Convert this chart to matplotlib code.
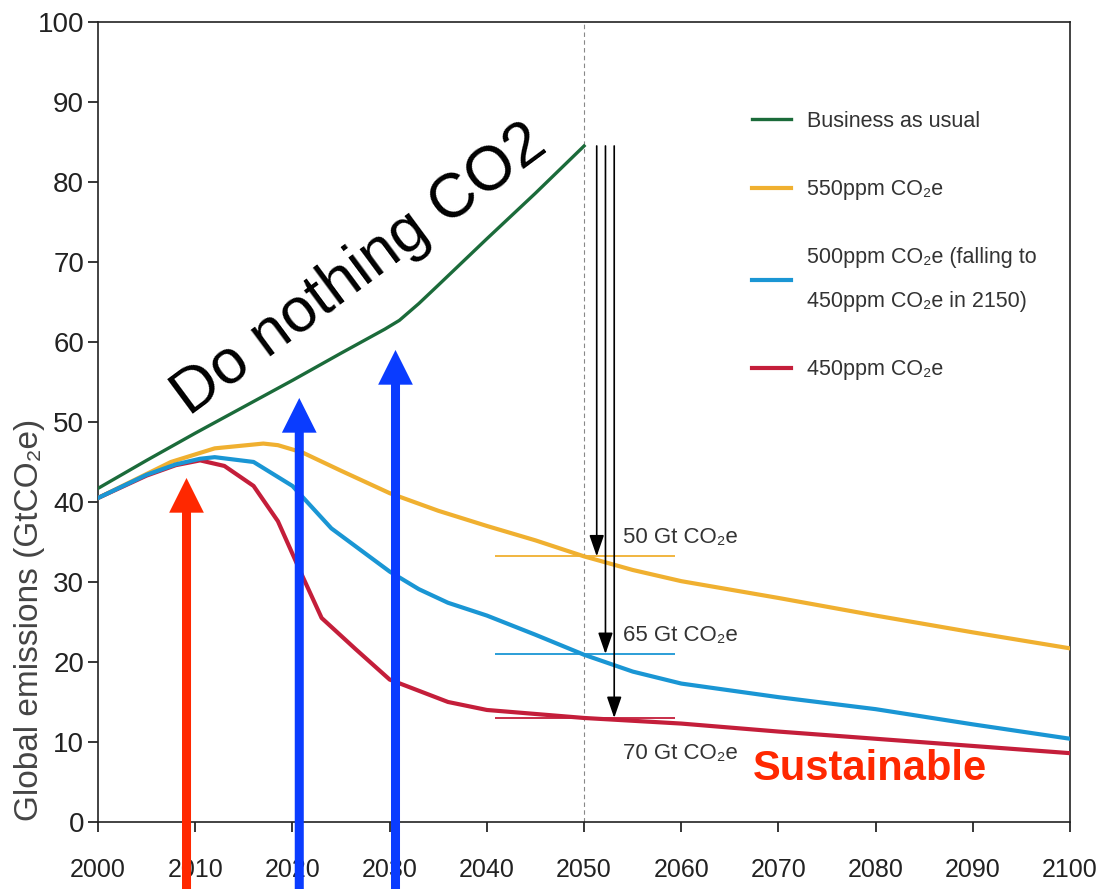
import matplotlib
matplotlib.use("Agg")
import matplotlib.pyplot as plt

# series (year, GtCO2e)
years_bau = [2000, 2005, 2010, 2015, 2020, 2025, 2029.5, 2031, 2033, 2035, 2040, 2045, 2050]
bau = [41.7, 45.2, 48.6, 51.9, 55.2, 58.6, 61.6, 62.7, 64.8, 67.1, 72.9, 78.6, 84.5]

years_550 = [2000, 2005, 2007.5, 2012, 2017, 2018.5, 2021, 2025, 2030, 2035, 2040,
             2045, 2050, 2055, 2060, 2070, 2080, 2090, 2100]
ppm550 = [40.5, 43.5, 45.0, 46.7, 47.3, 47.1, 46.2, 43.9, 41.1, 38.9, 37.0,
          35.2, 33.2, 31.5, 30.1, 28.0, 25.8, 23.7, 21.7]

years_500 = [2000, 2005, 2008, 2010.5, 2012, 2016, 2020, 2024, 2030, 2033, 2036,
             2040, 2045, 2050, 2055, 2060, 2070, 2080, 2090, 2100]
ppm500 = [40.5, 43.4, 44.7, 45.4, 45.6, 45.0, 42.0, 36.7, 31.3, 29.1, 27.4,
          25.8, 23.4, 20.9, 18.8, 17.3, 15.6, 14.1, 12.2, 10.4]

years_450 = [2000, 2005, 2008, 2010.5, 2013, 2016, 2018.5, 2021, 2023, 2026.5,
             2030, 2036, 2040, 2050, 2060, 2070, 2080, 2090, 2100]
ppm450 = [40.5, 43.3, 44.6, 45.2, 44.5, 42.0, 37.6, 30.8, 25.5, 21.6,
          17.8, 15.0, 14.0, 13.0, 12.3, 11.3, 10.4, 9.5, 8.6]

labels = ["Business as usual", "550ppm CO₂e",
          "500ppm CO₂e (falling to\n450ppm CO₂e in 2150)", "450ppm CO₂e"]
colors = ["#1b6b3a", "#f0b030", "#1a96d4", "#c41e3a"]

# cumulative budgets marked in 2050
budget_labels = ["50 Gt CO₂e", "65 Gt CO₂e", "70 Gt CO₂e"]
budget_levels = [33.2, 21.0, 13.0]
budget_label_y = [35.6, 23.3, 8.6]
budget_arrow_x = [2051.3, 2052.2, 2053.1]

# overlay arrows
red_arrow_x, red_arrow_tip = 2009.1, 43.0
blue_arrow_x = [2020.7, 2030.6]
blue_arrow_tip = [53.0, 59.0]

sans = ["Liberation Sans", "DejaVu Sans"]

fig = plt.figure(figsize=(10.98, 8.89), dpi=100)
ax = fig.add_axes([0.0893, 0.0754, 0.8853, 0.8999])

ax.plot(years_550, ppm550, color=colors[1], lw=3.0, label=labels[1], zorder=3)
ax.plot(years_450, ppm450, color=colors[3], lw=3.0, label=labels[3], zorder=3)
ax.plot(years_500, ppm500, color=colors[2], lw=3.0, label=labels[2], zorder=3)
ax.plot(years_bau, bau, color=colors[0], lw=2.4, label=labels[0], zorder=4)

ax.axvline(2050, color="#888888", lw=0.8, dashes=(4, 3), zorder=1)

for lvl, col in zip(budget_levels, [colors[1], colors[2], colors[3]]):
    ax.hlines(lvl, 2040.8, 2059.4, color=col, lw=1.3, zorder=2)

for bx, lvl in zip(budget_arrow_x, budget_levels):
    ax.annotate("", xy=(bx, lvl), xytext=(bx, bau[-1]),
                arrowprops=dict(arrowstyle="-|>,head_length=1.3,head_width=0.45",
                                mutation_scale=10, color="black", lw=1.2,
                                shrinkA=0, shrinkB=0), zorder=5)

for txt, ty in zip(budget_labels, budget_label_y):
    ax.text(2054.0, ty, txt, family=sans, fontsize=16, color="#333333",
            va="center", ha="left")

# big overlay arrows coming from below the figure
ax.annotate("", xy=(red_arrow_x, red_arrow_tip), xytext=(red_arrow_x, -10),
            arrowprops=dict(width=6.5, headwidth=25, headlength=25, shrink=0,
                            color="#ff2800", lw=0),
            annotation_clip=False, zorder=6)
for bx, bt in zip(blue_arrow_x, blue_arrow_tip):
    ax.annotate("", xy=(bx, bt), xytext=(bx, -10),
                arrowprops=dict(width=6.5, headwidth=25, headlength=25, shrink=0,
                                color="#0a3cff", lw=0),
                annotation_clip=False, zorder=6)

ax.text(2026.9, 69.0, "Do nothing CO2", family=sans, fontsize=45, color="black",
        rotation=36.5, rotation_mode="anchor", ha="center", va="center", zorder=7)
ax.text(2079.4, 5.3, "Sustainable", family=sans, fontsize=30, fontweight="bold",
        color="#ff2800", ha="center", va="baseline", zorder=7)

ax.set_xlim(2000, 2100)
ax.set_ylim(0, 100)
ax.set_xticks(range(2000, 2101, 10))
ax.set_yticks(range(0, 101, 10))
ax.tick_params(axis="y", direction="out", length=7, width=1.1, pad=3,
               labelsize=20, labelcolor="#222222")
ax.tick_params(axis="x", direction="out", length=7, width=1.1, pad=19,
               labelsize=18, labelcolor="#222222")
for t in ax.get_xticklabels() + ax.get_yticklabels():
    t.set_family(sans)
for s in ax.spines.values():
    s.set_linewidth(1.2)
    s.set_color("#222222")

fig.text(0.027, 0.3026, "Global emissions (GtCO₂e)", family=sans, fontsize=24,
         color="#444444", rotation=90, ha="center", va="center")

h, l = ax.get_legend_handles_labels()
order = [l.index(x) for x in labels]
leg = ax.legend([h[i] for i in order], [l[i] for i in order],
                loc="upper left", bbox_to_anchor=(0.673, 0.889), frameon=False,
                borderpad=0, borderaxespad=0, handlelength=1.8, handletextpad=0.75,
                labelspacing=2.2, prop={"family": sans, "size": 15.5})
for t in leg.get_texts():
    t.set_color("#333333")
    t.set_linespacing(2.4)

fig.savefig("out.png", dpi=100, facecolor="white")
